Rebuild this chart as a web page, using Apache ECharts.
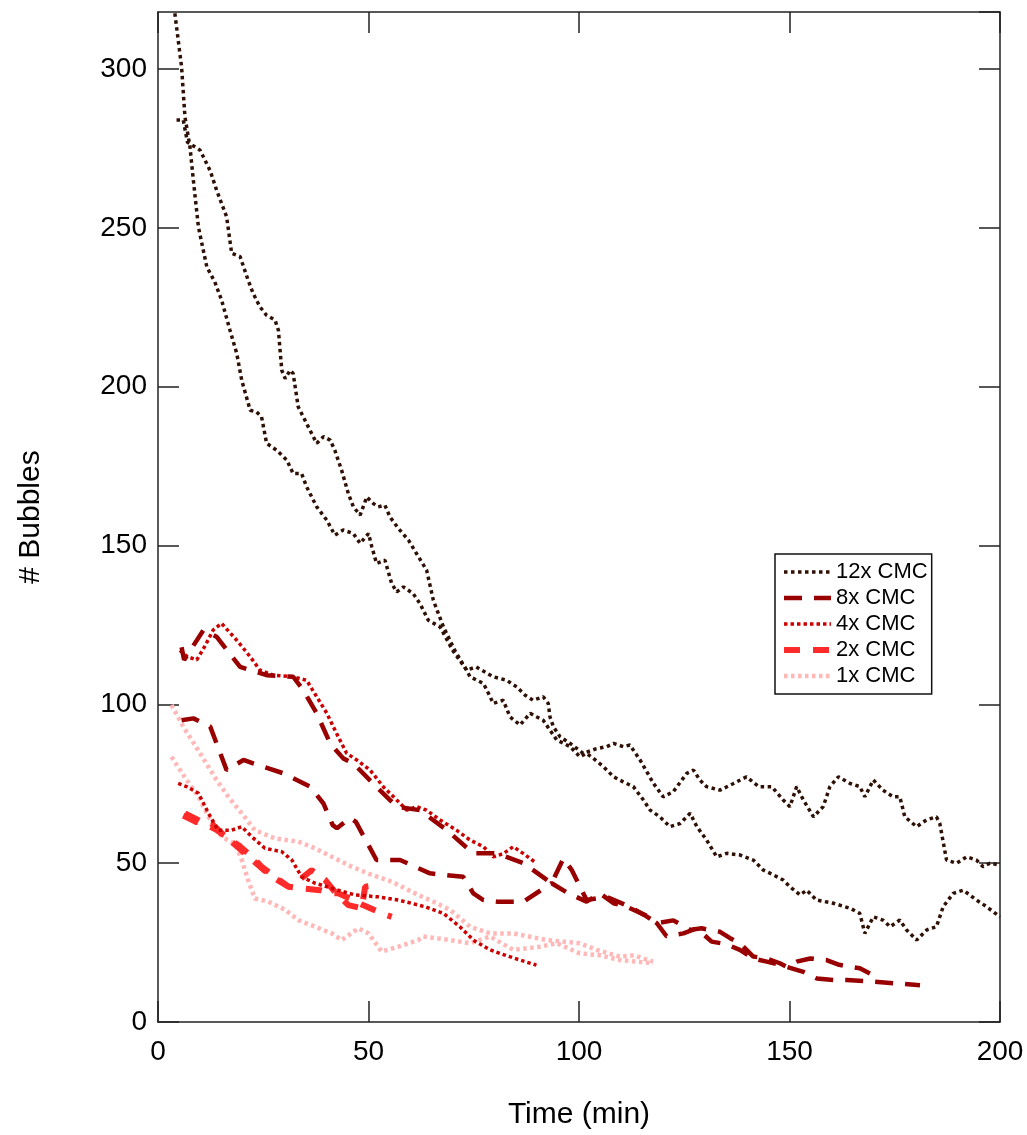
<!DOCTYPE html>
<html>
<head>
<meta charset="utf-8">
<title># Bubbles vs Time</title>
<script src="https://cdn.jsdelivr.net/npm/echarts@6/dist/echarts.min.js"></script>
<style>
    html, body { margin: 0; padding: 0; background: #fff; }
    #bubbleChart { width: 1027px; height: 1135px; }
</style>
</head>
<body>
<div id="bubbleChart"></div>
<script>
// [time (min), # bubbles], two runs per concentration
var cmc12RunA = [[3.8,322],[4.0,317.6],[5.6,300.7],[6.4,285],[7.6,275.5],[8.4,265],[9.6,250.3],[11.6,237.7],[13.5,233],[15.1,227.3],[17.1,217.8],[18.7,210.5],[19.9,202],[21.9,192.6],[23.4,192.1],[24.6,190.5],[25.8,182.2],[28.2,180],[30.6,176.9],[32.1,172.7],[34.1,172.7],[35.3,168.5],[37.7,162.2],[40.1,158],[42,153.3],[44,154.9],[46.4,153.8],[48,150.7],[50,153.8],[50.8,149.6],[51.9,144.4],[53.9,145.4],[55.5,138.1],[56.7,135.4],[58.3,137],[60.6,134.9],[62.2,131.8],[64.2,126.5],[67,124.4],[70,117],[73.3,110.8],[74.1,108.7],[77.3,106.6],[78.9,102.4],[79.6,100.3],[82,101.3],[83.6,96.1],[86,93.5],[88.4,97.2],[89.9,96.1],[91.5,95],[94.7,88.8],[97.9,86.7],[100.2,83.5],[101.8,84.6],[103.4,83],[105.8,80.4],[108.2,77.2],[110.5,75.6],[112.9,74.1],[115.3,69.9],[116.9,66.7],[119.2,64.6],[121.6,61.5],[124,62.5],[126.4,65.7],[128,61.5],[130.3,57.3],[132.7,52],[135.1,53.1],[138.2,52.6],[141.4,51],[143.8,47.8],[146.2,46.3],[148.5,44.7],[150.1,42.6],[152.5,40],[154.1,41.5],[156.4,38.4],[160.4,37.4],[164.4,35.8],[166.7,34.2],[167.9,27.9],[169.9,33.1],[172.2,32.1],[173.9,30],[176.2,32.1],[177.8,29],[180.2,25.8],[182.6,29],[184.9,30],[186.5,36.3],[188.9,40.5],[191.3,41.5],[194.4,38.4],[196.8,36.3],[200,33.1]];
var cmc12RunB = [[4.4,284],[6,284],[7,277],[10,274.5],[12.4,268],[13.9,262],[16.3,253.5],[17.5,242],[19.5,241],[21.4,233.6],[22.6,229.4],[24.2,225.2],[25.8,222.5],[27.8,221],[28.6,217.8],[29.4,205.2],[30.2,202.6],[31.4,205.2],[32.1,204.2],[33.3,193.7],[34.9,189.5],[36.1,186.3],[37.7,182.2],[39.3,184.3],[40.9,183.2],[42,180],[43.6,173.8],[45.2,166.4],[46.4,162.2],[48,159.6],[49.6,165.3],[51.1,163.3],[52.3,162.2],[53.9,162.7],[55.1,159],[57.1,155.4],[59.5,151.7],[61.4,147.5],[63.8,142.3],[65.4,132.8],[66.6,128.6],[67.8,124.4],[70.5,117],[73.3,110.8],[75.6,111.8],[79.6,108.7],[82.8,107.6],[85.2,105.5],[87.2,102.9],[89.1,101.3],[91.5,102.4],[92.7,100.3],[93.1,96.1],[93.9,93],[95.5,89.8],[97.9,87.7],[101,84.6],[104,86],[106.6,86.7],[108.2,87.7],[110.5,86.7],[112.1,87.2],[114.5,82.5],[117.7,75.1],[120,70.9],[122.4,72.5],[125.6,78.3],[127.2,79.3],[128.7,76.2],[130.3,74.1],[133.5,73],[136.7,75.1],[139.8,77.2],[142.7,74.1],[145.8,74.1],[148.5,69.9],[150.1,67.8],[151.7,74.1],[153.3,69.9],[155.7,64.6],[158,67.8],[159.6,74.1],[161.6,77.2],[164.4,75.1],[166.7,74.1],[167.9,70.9],[169.9,76.2],[172.2,73],[174.6,70.9],[176.2,70.9],[177.4,64.6],[180.2,61.5],[182.5,63.6],[184.9,64.6],[185.7,62.5],[187.3,51],[189.7,50],[192.1,52],[194.4,51],[196,48.9],[197.6,50],[200,49.4]];

var cmc8RunA = [[5.6,118],[6.2,114],[10.8,123.4],[13.9,121.3],[19.5,111.8],[25.8,109.2],[32.1,108.7],[34.5,104.5],[37.7,97.2],[40.9,87.7],[44,83],[46.4,81.4],[51.1,75.1],[56.7,67.8],[62.2,66.7],[68.6,60.4],[74.9,53.1],[80.5,53.1],[86.8,50],[93.5,43.7],[96.3,51.5],[98.3,47.8],[101.8,38.4],[106.6,39.4],[112,36.3],[115.5,33.7],[118.5,31.1],[122.4,32],[126.4,29],[129.1,29.5],[133.5,28.4],[135.9,26.4],[138.2,24.8],[141.4,20.6],[144.6,20],[147.7,18.5],[149.3,17.4],[151.7,19],[154.9,20],[158.8,19.5],[161.8,18],[166.7,16.9],[169.1,15.3]];
var cmc8RunB = [[5.6,95],[8.4,95.6],[12.4,93],[16.3,79.3],[20.3,82.5],[22.6,81.4],[29.8,78.3],[36.1,74.1],[39.3,68.8],[41.5,62],[42.5,61],[45.6,64.3],[47,63],[51.9,51],[57.5,51],[64.6,46.8],[72.5,45.7],[74.9,40.5],[77.3,38.4],[80.5,37.9],[86.8,37.9],[93.5,43.7],[97.5,40.5],[101.8,37.9],[105,40.5],[108.2,37.4],[111.3,36.3],[115.7,33.7],[118.5,31.1],[120.8,27],[124.8,27.9],[128,29.5],[131.5,25.3],[135,24.5],[138.2,22.7],[141.4,20],[144.6,19],[147.7,18],[149.3,17.4],[153.3,15.8],[156.5,13.7],[160.4,13.2],[163.6,13.2],[169.9,12.7],[174.6,12.2],[181,11.6]];

var cmc4RunA = [[5.2,117],[7,115],[9.2,114],[11,118],[13.1,123.4],[15.1,125.5],[18.7,120.2],[21.9,115],[24.2,110.8],[27.4,109.2],[32.1,108.7],[35.3,107.6],[37.7,102.4],[40.1,97.2],[42.4,90.9],[44.8,84.6],[47.2,82.5],[50.4,79.3],[53.5,74.1],[56.7,69.9],[59.1,66.7],[61.4,67.8],[63.8,66.7],[67,63.6],[70.9,60.4],[74.1,57.3],[77.3,55.2],[79.6,52],[82,53],[84.4,55.2],[86.8,53],[89.9,50]];
var cmc4RunB = [[4.8,75.1],[7,74],[9.6,72],[12,65.7],[14.3,60.4],[17.5,60.4],[19.9,61.5],[22.3,58.3],[25.4,54.7],[29.4,53.6],[31.8,51],[34.1,45.7],[37.3,43.7],[42.8,41.5],[46.8,40],[52.3,39.4],[57.1,38.4],[63.4,36.3],[67.8,34.2],[71.7,30],[74.9,25.8],[78.9,22.7],[81.2,21.6],[86,19.5],[89.9,17.9]];

var cmc2RunA = [[6.4,65.7],[9.5,63.6],[14,60.4],[19.1,55.7],[22.3,52],[24.6,48.9],[27.8,45.7],[31,42.6],[34.1,42.1],[38.5,41.5],[41.3,40.5],[42.8,40.5],[45.6,38.9],[48.4,37],[52.3,34.7],[55.5,33.1]];
var cmc2RunB = [[6,65],[9,63],[12.7,62.5],[15.5,59],[19,55],[22,51.5],[25,48],[28,45],[31,42.6],[34.5,45.7],[36.5,47.8],[39.7,44.7],[42,41],[45.2,36.8],[48.4,35.8],[49.2,42.6],[52.3,43.1]];

var cmc1RunA = [[3.2,99.8],[6,93],[10,84.6],[13.9,76.2],[16.7,70.9],[19.9,65.7],[23,60.4],[27.8,57.8],[33.3,56.8],[37.3,54.7],[41.3,52],[46,48.9],[50.8,46.3],[55.5,44.2],[61.8,40],[64.6,38.4],[69.4,35.3],[74.1,30],[78.9,27.9],[84.4,27.9],[92.3,25.8],[100.2,24.8],[104.2,22.7],[109.7,20.6],[113,21],[117.6,19]];
var cmc1RunB = [[3.2,83.5],[6.4,77],[9.6,70.9],[12,64.6],[15.1,58.3],[18.3,56.2],[19.9,51],[21.4,44.7],[23,38.9],[26.2,37.9],[30.2,35.3],[33.3,32.1],[37.3,30],[41.3,27.9],[43.6,25.8],[47.6,29.5],[50,27.9],[53.1,22.2],[57.1,23.7],[61.8,25.8],[63,26.9],[69.4,25.8],[74.1,24.8],[78.9,26.9],[84.4,22.7],[90.7,23.7],[94.7,24.8],[100.2,21.6],[105,21],[109.7,19.5],[117.6,18.5]];

var legendNames = ['12x CMC', '8x CMC', '4x CMC', '2x CMC', '1x CMC'];
var xTicks = [0, 50, 100, 150, 200];

var FONT = '"Liberation Sans", Arial, sans-serif';
var AXIS_COLOR = '#222';

initBubbleChart();

function initBubbleChart() {
    var chart = echarts.init(document.getElementById('bubbleChart'));

    // one line per run, same style for both runs of a concentration
    function makeSerie(name, data, color, width, dash) {
        return {
            name: name,
            type: 'line',
            data: data,
            symbol: 'none',
            showSymbol: false,
            smooth: false,
            clip: true,
            lineStyle: { color: color, width: width, type: dash, cap: 'butt' },
            itemStyle: { color: color }
        };
    }

    var series = [];
    series.push(makeSerie('1x CMC', cmc1RunA, '#ffb8b8', 4.5, [3.5, 3.5]));
    series.push(makeSerie('1x CMC', cmc1RunB, '#ffb8b8', 4.5, [3.5, 3.5]));
    series.push(makeSerie('2x CMC', cmc2RunA, '#ff2a2a', 6, [16, 13]));
    series.push(makeSerie('2x CMC', cmc2RunB, '#ff2a2a', 6, [16, 13]));
    series.push(makeSerie('4x CMC', cmc4RunA, '#cc0000', 3.5, [3.5, 3]));
    series.push(makeSerie('4x CMC', cmc4RunB, '#cc0000', 3.5, [3.5, 3]));
    series.push(makeSerie('8x CMC', cmc8RunA, '#990000', 4.5, [18, 12]));
    series.push(makeSerie('8x CMC', cmc8RunB, '#990000', 4.5, [18, 12]));
    series.push(makeSerie('12x CMC', cmc12RunA, '#2e1005', 3.5, [3.5, 3.5]));
    series.push(makeSerie('12x CMC', cmc12RunB, '#2e1005', 3.5, [3.5, 3.5]));

    var frameLine = { show: true, onZero: false, lineStyle: { color: AXIS_COLOR, width: 1.5 } };
    var innerTick = { show: true, inside: true, length: 21, lineStyle: { color: AXIS_COLOR, width: 1.5 } };

    var option = {
        animation: false,
        backgroundColor: '#fff',
        grid: { left: 158, right: 27, top: 12, bottom: 113, containLabel: false },
        legend: {
            data: legendNames,
            orient: 'vertical',
            left: 775,
            top: 554,
            padding: [7, 4, 7, 6],
            itemWidth: 47,
            itemHeight: 12,
            itemGap: 4,
            itemStyle: { opacity: 0 },
            lineStyle: { width: 'inherit', type: 'inherit' },
            backgroundColor: '#fff',
            borderColor: '#111',
            borderWidth: 1.5,
            borderRadius: 0,
            textStyle: { fontFamily: FONT, fontSize: 22, color: '#000', lineHeight: 22 }
        },
        xAxis: [{
            type: 'value',
            position: 'bottom',
            min: 0, max: 200, interval: 50,
            name: 'Time (min)',
            nameLocation: 'middle',
            nameGap: 78,
            nameTextStyle: { fontFamily: FONT, fontSize: 30, color: '#000' },
            axisLine: frameLine,
            axisTick: innerTick,
            splitLine: { show: false },
            axisLabel: {
                margin: 16, fontFamily: FONT, fontSize: 28, color: '#000',
                formatter: function (v) { return xTicks.indexOf(v) >= 0 ? String(v) : ''; }
            }
        }, {
            type: 'value',
            position: 'top',
            min: 0, max: 200, interval: 50,
            axisLine: frameLine,
            axisTick: innerTick,
            axisLabel: { show: false },
            splitLine: { show: false }
        }],
        yAxis: [{
            type: 'value',
            position: 'left',
            min: 0, max: 318, interval: 50,
            name: '# Bubbles',
            nameLocation: 'middle',
            nameGap: 112,
            nameRotate: 90,
            nameTextStyle: { fontFamily: FONT, fontSize: 30, color: '#000' },
            axisLine: frameLine,
            axisTick: innerTick,
            splitLine: { show: false },
            axisLabel: {
                margin: 11, fontFamily: FONT, fontSize: 28, color: '#000',
                showMaxLabel: false
            }
        }, {
            type: 'value',
            position: 'right',
            min: 0, max: 318, interval: 50,
            axisLine: frameLine,
            axisTick: innerTick,
            axisLabel: { show: false },
            splitLine: { show: false }
        }],
        series: series
    };
    chart.setOption(option);
}
</script>
</body>
</html>
